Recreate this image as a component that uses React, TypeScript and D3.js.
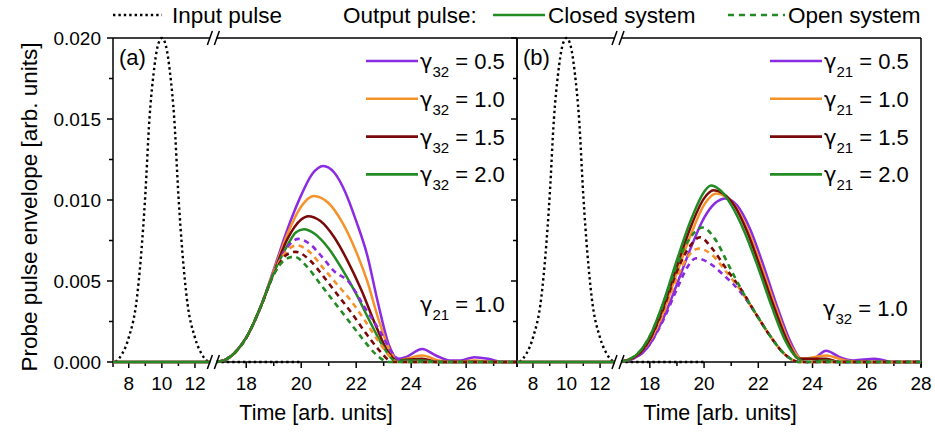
import React from "react";
import * as d3 from "d3";

const W = 935;
const H = 438;
const FONT = "'Liberation Sans', Arial, Helvetica, sans-serif";
const GREEK = "'DejaVu Sans', 'Liberation Serif', serif";

// time axis is broken: a left piece around the input pulse and a right piece for the output
const seg1Domain = [7.05, 12.95];
const seg2DomainA = [16.9, 27.85];
const seg2DomainB = [16.9, 28];
const yDomain = [0, 0.02];
const yMajor = [0, 0.005, 0.01, 0.015, 0.02];
const yMinor = [0.0025, 0.0075, 0.0125, 0.0175];
const xMajor = [8, 10, 12, 18, 20, 22, 24, 26, 28];
const xMinor = [9, 11, 19, 21, 23, 25, 27];

const gammaLabels = ["0.5", "1.0", "1.5", "2.0"];
const colors = ["#8B2BE2", "#F5922A", "#7A0A0A", "#238B23"];

// input pulse (dotted)
const inputPulse = [
  [7.2, 0], [7.6, 0.0005], [8.0, 0.0015], [8.5, 0.004], [9.0, 0.0103], [9.25, 0.015],
  [9.5, 0.0178], [9.75, 0.0195], [10, 0.02], [10.25, 0.0195], [10.5, 0.0178], [10.75, 0.015],
  [11.0, 0.0103], [11.5, 0.004], [12.0, 0.0015], [12.4, 0.0005], [12.8, 0],
];
const inputTail = [[16.9, 0], [20, 0]];

const lead = [[7.05, 0], [12.95, 0], [16.9, 0]];
const trail = [[28, 0]];

// panel (a): gamma32 varies, gamma21 = 1.0
const closedA = [
  [[17.3, 0.0002], [17.6, 0.0006], [18, 0.0015], [18.5, 0.0033], [19, 0.0057], [19.5, 0.0082], [20, 0.0103], [20.4, 0.0116], [20.8, 0.0121], [21.2, 0.0117], [21.6, 0.0105], [22, 0.0087], [22.4, 0.0066], [22.8, 0.0036], [23.2, 0.001], [23.5, 0.0002], [23.8, 0.0003], [24.4, 0.0008], [24.9, 0.0004], [25.4, 0.0001], [25.8, 0.0001], [26.3, 0.0003], [26.8, 0.0002], [27.3, 0]],
  [[17.3, 0.0002], [17.6, 0.0006], [18, 0.0015], [18.5, 0.0033], [19, 0.0056], [19.5, 0.0079], [20, 0.0096], [20.45, 0.01025], [21, 0.0098], [21.5, 0.0086], [22, 0.0068], [22.4, 0.005], [22.8, 0.0027], [23.2, 0.0008], [23.5, 0.0001], [24.4, 0.0004], [25, 0.0001], [25.6, 0], [26.3, 0.0001], [27, 0]],
  [[17.3, 0.0002], [17.6, 0.0006], [18, 0.0015], [18.5, 0.0033], [19, 0.0055], [19.5, 0.0076], [20, 0.0088], [20.25, 0.009], [20.7, 0.0087], [21.2, 0.0077], [21.7, 0.0062], [22.2, 0.0044], [22.7, 0.0023], [23.1, 0.0008], [23.5, 0.0001], [24.4, 0.0002], [25, 0]],
  [[17.3, 0.0002], [17.6, 0.0006], [18, 0.0015], [18.5, 0.0033], [19, 0.0055], [19.5, 0.0072], [19.8, 0.008], [20.1, 0.0082], [20.5, 0.0079], [21, 0.007], [21.5, 0.0057], [22, 0.0042], [22.5, 0.0025], [23, 0.0009], [23.4, 0.0001], [24.4, 0.0001], [25, 0]],
];
const openA = [
  [[17.3, 0.0002], [17.6, 0.0006], [18, 0.0015], [18.5, 0.0033], [19, 0.0055], [19.5, 0.0071], [19.9, 0.0076], [20.3, 0.0073], [20.8, 0.0064], [21.2, 0.0056], [21.7, 0.005], [22.3, 0.0034], [22.9, 0.0018], [23.3, 0.0006], [23.6, 0.0001], [23.9, 0]],
  [[17.3, 0.0002], [17.6, 0.0006], [18, 0.0015], [18.5, 0.0033], [19, 0.0055], [19.5, 0.0069], [19.85, 0.0072], [20.3, 0.0068], [20.8, 0.0058], [21.3, 0.0048], [21.8, 0.0038], [22.3, 0.0026], [22.8, 0.0013], [23.2, 0.0004], [23.5, 0]],
  [[17.3, 0.0002], [17.6, 0.0006], [18, 0.0015], [18.5, 0.0033], [19, 0.0054], [19.45, 0.0066], [19.8, 0.0068], [20.3, 0.0063], [20.8, 0.0053], [21.3, 0.0042], [21.8, 0.0031], [22.3, 0.0019], [22.8, 0.0008], [23.2, 0.0001], [23.4, 0]],
  [[17.3, 0.0002], [17.6, 0.0006], [18, 0.0015], [18.5, 0.0033], [19, 0.0054], [19.4, 0.0063], [19.75, 0.0065], [20.2, 0.0059], [20.7, 0.0048], [21.2, 0.0037], [21.7, 0.0026], [22.2, 0.0015], [22.7, 0.0005], [23, 0.0001], [23.2, 0]],
];

// panel (b): gamma21 varies, gamma32 = 1.0
const closedB = [
  [[17.6, 0.0004], [18, 0.0011], [18.5, 0.0027], [19, 0.0048], [19.5, 0.007], [20, 0.0089], [20.4, 0.0098], [20.8, 0.0101], [21.2, 0.0097], [21.7, 0.0082], [22.2, 0.0059], [22.7, 0.0034], [23.2, 0.0012], [23.6, 0.0002], [24, 0.0002], [24.5, 0.0007], [25, 0.0003], [25.5, 0.0001], [26.3, 0.0002], [27, 0]],
  [[17.6, 0.0005], [18, 0.0013], [18.5, 0.0031], [19, 0.0055], [19.5, 0.0078], [20, 0.0097], [20.45, 0.0104], [20.8, 0.0102], [21.2, 0.0095], [21.7, 0.0078], [22.2, 0.0055], [22.7, 0.0031], [23.2, 0.001], [23.6, 0.0002], [24.5, 0.0004], [25.2, 0.0001], [26, 0]],
  [[17.3, 0.0002], [17.6, 0.0005], [18, 0.0014], [18.5, 0.0034], [19, 0.0059], [19.5, 0.0083], [20, 0.0101], [20.35, 0.0106], [20.7, 0.0104], [21.1, 0.0097], [21.6, 0.008], [22.1, 0.0057], [22.6, 0.0033], [23.1, 0.0012], [23.5, 0.0002], [24.5, 0.0002], [25, 0]],
  [[17.3, 0.0002], [17.6, 0.0006], [18, 0.0016], [18.5, 0.0037], [19, 0.0063], [19.5, 0.0087], [20, 0.0105], [20.25, 0.0109], [20.6, 0.0106], [21, 0.0097], [21.5, 0.008], [22, 0.0058], [22.5, 0.0034], [23, 0.0013], [23.4, 0.0003], [23.8, 0], [24.5, 0.0001], [25, 0]],
];
const openB = [
  [[17.6, 0.0004], [18, 0.0011], [18.5, 0.0026], [19, 0.0045], [19.4, 0.0059], [19.7, 0.0064], [20.1, 0.0062], [20.7, 0.0054], [21.4, 0.0042], [21.9, 0.003], [22.4, 0.0017], [22.9, 0.0006], [23.3, 0.0001], [23.5, 0]],
  [[17.6, 0.0005], [18, 0.0013], [18.5, 0.003], [19, 0.0052], [19.5, 0.0067], [19.8, 0.007], [20.3, 0.0066], [20.8, 0.0056], [21.4, 0.0043], [21.9, 0.003], [22.4, 0.0017], [22.9, 0.0006], [23.3, 0.0001], [23.5, 0]],
  [[17.6, 0.0005], [18, 0.0014], [18.5, 0.0033], [19, 0.0056], [19.5, 0.0072], [19.85, 0.0077], [20.3, 0.007], [20.8, 0.0058], [21.4, 0.0044], [21.9, 0.003], [22.4, 0.0017], [22.9, 0.0006], [23.3, 0.0001], [23.5, 0]],
  [[17.6, 0.0006], [18, 0.0016], [18.5, 0.0036], [19, 0.006], [19.5, 0.0077], [19.95, 0.0083], [20.4, 0.0076], [20.9, 0.006], [21.4, 0.0044], [21.9, 0.003], [22.4, 0.0017], [22.9, 0.0006], [23.3, 0.0001], [23.5, 0]],
];

const panels = [
  { id: "a", r1: [113, 210.7], r2: [216, 517], d2: seg2DomainA, closed: closedA, open: openA, legSub: "32", noteSub: "21", noteX: 420, noteY: 312 },
  { id: "b", r1: [517, 616], r2: [620, 921], d2: seg2DomainB, closed: closedB, open: openB, legSub: "21", noteSub: "32", noteX: 823, noteY: 316 },
];

const top = 38;
const bottom = 362;

export default function App() {
  const y = d3.scaleLinear().domain(yDomain).range([bottom, top]);
  const mk = (sx: any) =>
    d3.line<number[]>().x((d) => sx(d[0])).y((d) => y(d[1])).curve(d3.curveMonotoneX);

  const axisStroke = { stroke: "#000", strokeWidth: 1.5, fill: "none" };

  const Slashes = ({ cx, cy }: { cx: number; cy: number }) => (
    <g>
      <rect x={cx - 3} y={cy - 2} width={6} height={4} fill="#fff" />
      <line x1={cx - 6} y1={cy + 7} x2={cx - 1} y2={cy - 7} {...axisStroke} />
      <line x1={cx + 1} y1={cy + 7} x2={cx + 6} y2={cy - 7} {...axisStroke} />
    </g>
  );

  const Gamma = ({ x, yy, sub, val }: { x: number; yy: number; sub: string; val: string }) => (
    <text x={x} y={yy} fontSize={22}>
      <tspan fontFamily={GREEK} fontSize={21}>γ</tspan>
      <tspan fontSize={15} dy={8}>{sub}</tspan>
      <tspan dy={-8}> = {val}</tspan>
    </text>
  );

  return (
    <svg width={W} height={H} style={{ position: "absolute", left: 0, top: 0, background: "#fff" }} fontFamily={FONT}>
      <defs>
        {panels.map((p) => (
          <React.Fragment key={p.id}>
            <clipPath id={`c1${p.id}`}>
              <rect x={p.r1[0]} y={top - 6} width={p.r1[1] - p.r1[0]} height={bottom - top + 10} />
            </clipPath>
            <clipPath id={`c2${p.id}`}>
              <rect x={p.r2[0]} y={top - 6} width={p.r2[1] - p.r2[0]} height={bottom - top + 10} />
            </clipPath>
          </React.Fragment>
        ))}
      </defs>

      {/* top legend */}
      <line x1={113} x2={162} y1={15} y2={15} stroke="#000" strokeWidth={2.4} strokeDasharray="2.4 3" />
      <text x={172} y={23} fontSize={22.5}>Input pulse</text>
      <text x={343} y={23} fontSize={22.5}>Output pulse:</text>
      <line x1={493} x2={545} y1={15} y2={15} stroke={colors[3]} strokeWidth={2.6} />
      <text x={548} y={23} fontSize={22.5}>Closed system</text>
      <line x1={728} x2={785} y1={15} y2={15} stroke={colors[3]} strokeWidth={2.6} strokeDasharray="6 5" />
      <text x={788} y={23} fontSize={22.5}>Open system</text>

      {/* y axis title and ticks */}
      <text transform={`translate(37,207) rotate(-90)`} textAnchor="middle" fontSize={22.5}>
        Probe pulse envelope [arb. units]
      </text>
      {yMajor.map((v) => (
        <g key={v}>
          <line x1={107} x2={113} y1={y(v)} y2={y(v)} {...axisStroke} />
          <line x1={511} x2={517} y1={y(v)} y2={y(v)} {...axisStroke} />
          <text x={101} y={y(v)} dy="0.36em" textAnchor="end" fontSize={19}>
            {d3.format(".3f")(v)}
          </text>
        </g>
      ))}
      {yMinor.map((v) => (
        <g key={v}>
          <line x1={109} x2={113} y1={y(v)} y2={y(v)} {...axisStroke} />
          <line x1={513} x2={517} y1={y(v)} y2={y(v)} {...axisStroke} />
        </g>
      ))}

      {panels.map((p) => {
        const sx1 = d3.scaleLinear().domain(seg1Domain).range(p.r1);
        const sx2 = d3.scaleLinear().domain(p.d2).range(p.r2);
        const l1 = mk(sx1);
        const l2 = mk(sx2);
        const inSeg = (t: number, seg: number[]) => t >= seg[0] - 0.01 && t <= seg[1] + 0.01;
        const brk = (p.r1[1] + p.r2[0]) / 2;
        const full = (pts: number[][]) => [...lead, ...pts, ...trail];
        const part1 = (pts: number[][]) => pts.filter((d) => d[0] <= 13);
        const part2 = (pts: number[][]) => pts.filter((d) => d[0] >= 16.5);
        const legRight = p.r2[1];
        return (
          <g key={p.id}>
            {/* frame */}
            <line x1={p.r1[0]} x2={p.r1[1]} y1={top} y2={top} {...axisStroke} />
            <line x1={p.r2[0]} x2={p.r2[1]} y1={top} y2={top} {...axisStroke} />
            <line x1={p.r1[0]} x2={p.r1[1]} y1={bottom} y2={bottom} {...axisStroke} />
            <line x1={p.r2[0]} x2={p.r2[1]} y1={bottom} y2={bottom} {...axisStroke} />
            <line x1={p.r1[0]} x2={p.r1[0]} y1={top} y2={bottom + 5} {...axisStroke} />
            <line x1={p.r2[1]} x2={p.r2[1]} y1={top} y2={bottom + 5} {...axisStroke} />

            {/* x ticks */}
            {xMajor.map((t) => {
              const sx = inSeg(t, seg1Domain) ? sx1 : inSeg(t, p.d2) ? sx2 : null;
              if (!sx) return null;
              return (
                <g key={t}>
                  <line x1={sx(t)} x2={sx(t)} y1={bottom} y2={bottom + 6} {...axisStroke} />
                  <text x={sx(t)} y={390} textAnchor="middle" fontSize={19}>{t}</text>
                </g>
              );
            })}
            {xMinor.map((t) => {
              const sx = inSeg(t, seg1Domain) ? sx1 : inSeg(t, p.d2) ? sx2 : null;
              if (!sx) return null;
              return <line key={t} x1={sx(t)} x2={sx(t)} y1={bottom} y2={bottom + 4} {...axisStroke} />;
            })}
            <text x={(p.r1[0] + p.r2[1]) / 2 + 1} y={420} textAnchor="middle" fontSize={21.5}>
              Time [arb. units]
            </text>

            {/* curves */}
            <g clipPath={`url(#c1${p.id})`}>
              <path d={l1(inputPulse) || ""} fill="none" stroke="#000" strokeWidth={2.4} strokeDasharray="2.4 3" />
              {p.closed.map((s, i) => (
                <path key={i} d={l1(part1(full(s))) || ""} fill="none" stroke={colors[i]} strokeWidth={2.5} />
              ))}
            </g>
            <g clipPath={`url(#c2${p.id})`}>
              <path d={l2(inputTail) || ""} fill="none" stroke="#000" strokeWidth={2.4} strokeDasharray="2.4 3" />
              {p.closed.map((s, i) => (
                <path key={i} d={l2(part2(full(s))) || ""} fill="none" stroke={colors[i]} strokeWidth={2.5} />
              ))}
              {p.open.map((s, i) => (
                <path key={i} d={l2(part2(full(s))) || ""} fill="none" stroke={colors[i]} strokeWidth={2.6} strokeDasharray="5.5 4.5" />
              ))}
            </g>

            {/* axis breaks */}
            <Slashes cx={brk} cy={top} />
            <Slashes cx={brk} cy={bottom} />

            {/* panel label */}
            <text x={p.r1[0] + 6} y={65} fontSize={22}>({p.id})</text>

            {/* legend */}
            {gammaLabels.map((g, i) => {
              const ly = 61 + i * 37.8;
              return (
                <g key={g}>
                  <line x1={legRight - 151} x2={legRight - 99} y1={ly} y2={ly} stroke={colors[i]} strokeWidth={2.6} />
                  <Gamma x={legRight - 97} yy={ly + 8} sub={p.legSub} val={g} />
                </g>
              );
            })}
            <Gamma x={p.noteX} yy={p.noteY} sub={p.noteSub} val="1.0" />
          </g>
        );
      })}
    </svg>
  );
}
